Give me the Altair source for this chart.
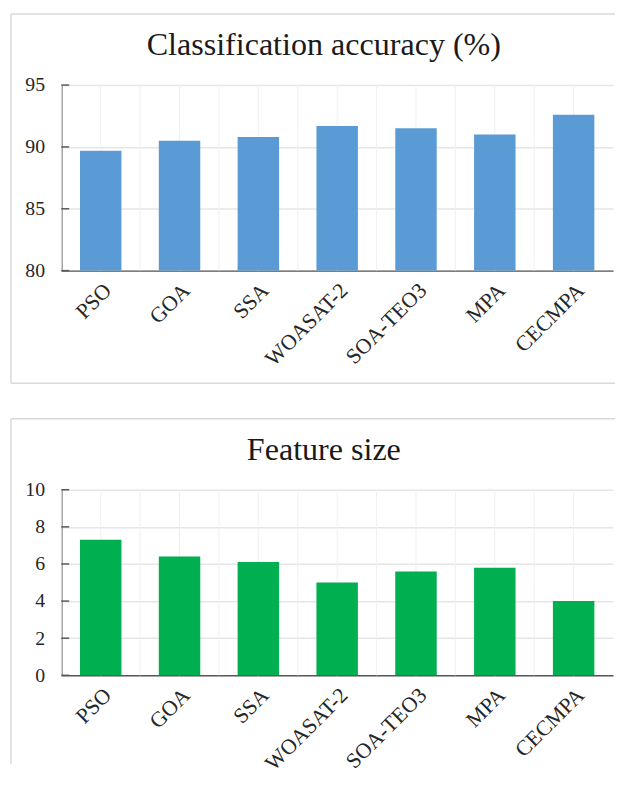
import altair as alt
import pandas as pd

algorithms = ["PSO", "GOA", "SSA", "WOASAT-2", "SOA-TEO3", "MPA", "CECMPA"]
accuracy = [89.7, 90.5, 90.8, 91.7, 91.5, 91.0, 92.6]
feature_size = [7.3, 6.4, 6.1, 5.0, 5.6, 5.8, 4.0]
acc_ticks = [80, 85, 90, 95]
fs_ticks = [0, 2, 4, 6, 8, 10]

W, H = 559, 188
STEP = W / 7
FONT = "Liberation Serif"
BORDER = "#d9d9d9"
AXIS = "#595959"
LABEL = "#262626"


def panel(values, color, title, domain, ticks, bottom_border=True):
    df = pd.DataFrame({"alg": algorithms, "v": values})
    tick_df = pd.DataFrame({"v": ticks})
    xenc = alt.X(
        "alg:N",
        sort=algorithms,
        scale=alt.Scale(paddingInner=0.474, paddingOuter=0.237),
        axis=alt.Axis(
            title=None, labelAngle=-45, ticks=False, grid=False,
            domainColor=AXIS, domainWidth=1.5, labelPadding=9,
            labelFont=FONT, labelFontSize=22, labelColor=LABEL,
        ),
    )
    yenc = alt.Y(
        "v:Q",
        scale=alt.Scale(domain=domain, nice=False, zero=False),
        axis=alt.Axis(
            title=None, values=ticks, grid=True, gridColor="#e6e6e6",
            gridWidth=1.5, domainColor=AXIS, domainWidth=1.5,
            ticks=False, labelPadding=17,
            labelFont=FONT, labelFontSize=20, labelColor=LABEL,
        ),
    )
    base = alt.Chart(df)
    center_rules = base.mark_rule(color="#f0f0f0", strokeWidth=1).encode(x=xenc)
    edge_rules = base.mark_rule(color="#f0f0f0", strokeWidth=1, xOffset=-STEP / 2).encode(x=xenc)
    bars = base.mark_bar(color=color, clip=True).encode(x=xenc, y=yenc)
    inner_ticks = alt.Chart(tick_df).mark_rule(color=AXIS, strokeWidth=1.5).encode(
        y=yenc, x=alt.value(0), x2=alt.value(8))
    one = alt.Chart(pd.DataFrame({"k": [0]}))
    bottom_y = 302 if bottom_border else 278
    left = one.mark_rule(color=BORDER, strokeWidth=1.5).encode(
        x=alt.value(-51), y=alt.value(-72), y2=alt.value(bottom_y))
    top = one.mark_rule(color=BORDER, strokeWidth=1.5).encode(
        x=alt.value(-51), x2=alt.value(561), y=alt.value(-72))
    title_text = one.mark_text(
        text=title, font=FONT, fontSize=32.5, color="#1a1a1a",
        align="center", baseline="alphabetic",
    ).encode(x=alt.value(266), y=alt.value(-30))
    layers = [center_rules, edge_rules, bars, inner_ticks, left, top, title_text]
    if bottom_border:
        bot = one.mark_rule(color=BORDER, strokeWidth=1.5).encode(
            x=alt.value(-51), x2=alt.value(561), y=alt.value(bottom_y))
        layers.append(bot)
    return alt.layer(*layers).properties(width=W, height=H)


top_chart = panel(accuracy, "#5b9bd5", "Classification accuracy (%)", [80, 95], acc_ticks)
bottom_chart = panel(feature_size, "#00b050", "Feature size", [0, 10], fs_ticks, bottom_border=False)

chart = (
    alt.vconcat(top_chart, bottom_chart, spacing=34)
    .properties(padding={"left": 2, "top": 0, "right": 0, "bottom": 0})
    .configure_view(stroke=None)
    .configure_axis(labelFont=FONT, labelColor=LABEL)
)

chart.save("out.html", embed_options={"renderer": "svg", "actions": False})
